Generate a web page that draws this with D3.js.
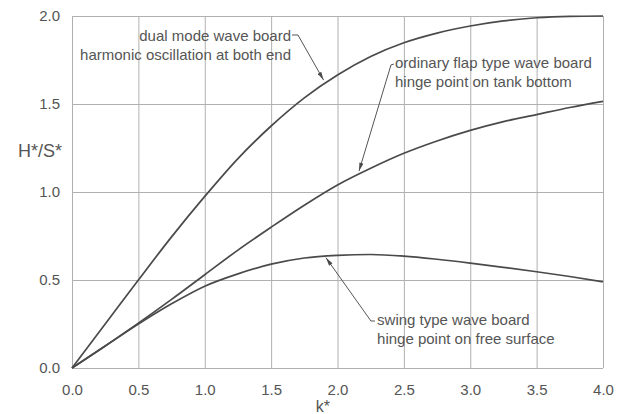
<!DOCTYPE html>
<html>
<head>
<meta charset="utf-8">
<script src="https://cdn.jsdelivr.net/npm/d3@7"></script>
<style>
  body { margin: 0; background: #fff; }
  text { font-family: "Liberation Sans", Arial, sans-serif; fill: #555; }
  .grid line { stroke: #b0b0b0; stroke-width: 1; }
  .grid path { display: none; }
  .tick text { font-size: 15px; }
</style>
</head>
<body>
<div id="chart"></div>
<script>
const kValues = [0, 0.25, 0.5, 0.75, 1, 1.25, 1.5, 1.75, 2, 2.25, 2.5, 2.75, 3, 3.25, 3.5, 3.75, 4];
// H*/S* for each wave board type
const dualMode = [0, 0.25, 0.50, 0.745, 0.975, 1.19, 1.375, 1.535, 1.665, 1.77, 1.848, 1.903, 1.943, 1.972, 1.99, 1.998, 2.0];
const flapType = [0, 0.125, 0.255, 0.39, 0.53, 0.67, 0.80, 0.925, 1.04, 1.135, 1.22, 1.29, 1.35, 1.40, 1.44, 1.48, 1.515];
const swingType = [0, 0.125, 0.25, 0.365, 0.465, 0.535, 0.59, 0.625, 0.64, 0.645, 0.636, 0.618, 0.596, 0.572, 0.547, 0.52, 0.49];

const xTicks = [0, 0.5, 1, 1.5, 2, 2.5, 3, 3.5, 4];
const yTicks = [0, 0.5, 1, 1.5, 2];

// labels with leader arrows (data coordinates)
const notes = [
  {lines: ["dual mode wave board", "harmonic oscillation at both end"], at: [1.65, 1.858], anchor: "end",
   leader: [[1.657, 1.892], [1.702, 1.892], [1.895, 1.636]]},
  {lines: ["ordinary flap type wave board", "hinge point on tank bottom"], at: [2.433, 1.705], anchor: "start",
   leader: [[2.425, 1.727], [2.403, 1.722], [2.162, 1.119]]},
  {lines: ["swing type wave board", "hinge point on free surface"], at: [2.298, 0.244], anchor: "start",
   leader: [[2.282, 0.267], [2.252, 0.267], [1.913, 0.627]]}
];

var margin = {top: 16, right: 25, bottom: 46, left: 72},
    width = 628 - margin.left - margin.right,
    height = 414 - margin.top - margin.bottom;

const svg = d3.select("#chart")
    .append("svg")
    .attr("width", width + margin.left + margin.right)
    .attr("height", height + margin.top + margin.bottom)
    .append("g")
    .attr("transform", "translate(" + margin.left + "," + margin.top + ")");

var x = d3.scaleLinear().domain([0, 4]).range([0, width]);
var y = d3.scaleLinear().domain([0, 2]).range([height, 0]);

// x grid + labels
svg.append("g")
    .attr("class", "grid")
    .attr("transform", "translate(0," + height + ")")
    .call(d3.axisBottom(x).tickValues(xTicks).tickSize(-height).tickPadding(16).tickFormat(d3.format(".1f")));

// y grid + labels
svg.append("g")
    .attr("class", "grid")
    .call(d3.axisLeft(y).tickValues(yTicks).tickSize(-width).tickPadding(12).tickFormat(d3.format(".1f")));

// axis titles
svg.append("text")
    .attr("x", x(1.89))
    .attr("y", height + 44)
    .attr("text-anchor", "middle")
    .style("font-size", "16px")
    .text("k*");

svg.append("text")
    .attr("x", -54)
    .attr("y", y(1.198))
    .style("font-size", "18px")
    .text("H*/S*");

// curves
var line = d3.line()
    .x((d, i) => x(kValues[i]))
    .y(d => y(d))
    .curve(d3.curveMonotoneX);

[dualMode, flapType, swingType].forEach(s => {
    svg.append("path")
        .datum(s)
        .attr("fill", "none")
        .attr("stroke", "#4a4a4a")
        .attr("stroke-width", 1.7)
        .attr("d", line);
});

// arrowhead
svg.append("defs").append("marker")
    .attr("id", "arrow")
    .attr("viewBox", "0 -3 10 6")
    .attr("refX", 10)
    .attr("refY", 0)
    .attr("markerUnits", "userSpaceOnUse")
    .attr("markerWidth", 9)
    .attr("markerHeight", 5)
    .attr("orient", "auto")
    .append("path")
    .attr("d", "M0,-2.5L10,0L0,2.5Z")
    .attr("fill", "#4a4a4a");

var leader = d3.line().x(d => x(d[0])).y(d => y(d[1]));

notes.forEach(n => {
    svg.append("path")
        .attr("d", leader(n.leader))
        .attr("fill", "none")
        .attr("stroke", "#555")
        .attr("stroke-width", 1)
        .attr("marker-end", "url(#arrow)");
    var t = svg.append("text")
        .attr("text-anchor", n.anchor)
        .style("font-size", "15px");
    n.lines.forEach((l, i) => {
        t.append("tspan")
            .attr("x", x(n.at[0]))
            .attr("y", y(n.at[1]) + i * 19)
            .text(l);
    });
});
</script>
</body>
</html>
